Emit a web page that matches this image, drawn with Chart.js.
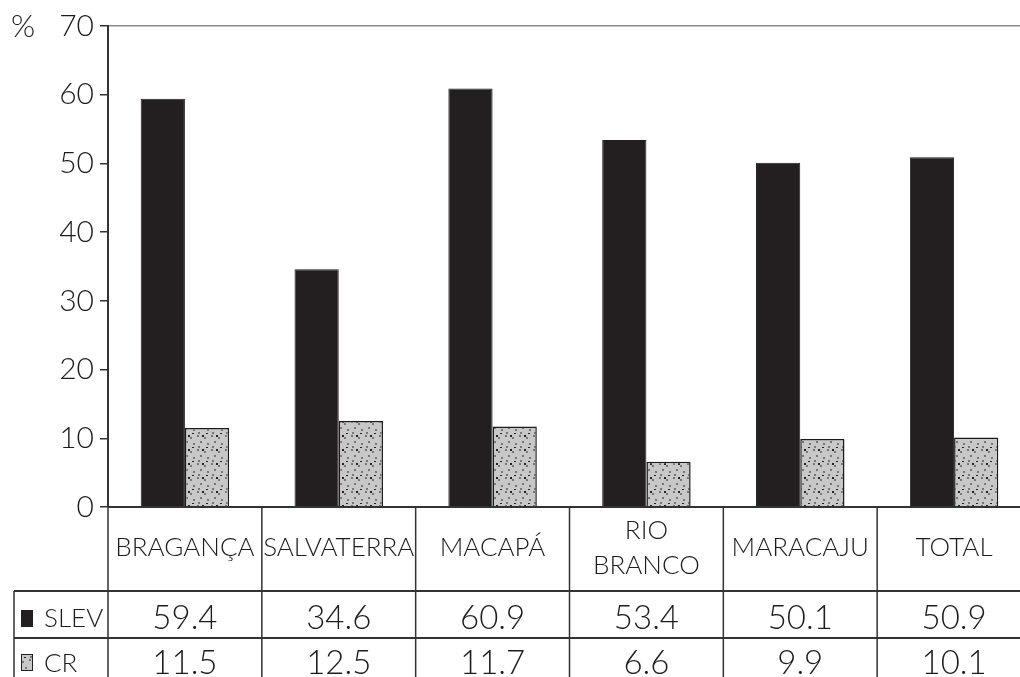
<!DOCTYPE html>
<html>
<head>
<meta charset="utf-8">
<script src="https://cdn.jsdelivr.net/npm/chart.js@4.4.1/dist/chart.umd.min.js"></script>
<style>
  html, body { margin: 0; padding: 0; background: #fff; overflow: hidden; }
  #wrap { position: relative; width: 1032px; height: 677px; }
</style>
</head>
<body>
<div id="wrap"><canvas id="c"></canvas></div>
<script>
const categories = ['BRAGANÇA', 'SALVATERRA', 'MACAPÁ', ['RIO', 'BRANCO'], 'MARACAJU', 'TOTAL'];
const seriesNames = ['SLEV', 'CR'];
const slevValues = [59.4, 34.6, 60.9, 53.4, 50.1, 50.9];
const crValues = [11.5, 12.5, 11.7, 6.6, 9.9, 10.1];
const slevLabels = ['59.4', '34.6', '60.9', '53.4', '50.1', '50.9'];
const crLabels = ['11.5', '12.5', '11.7', '6.6', '9.9', '10.1'];
const yMin = 0, yMax = 70, yStep = 10;
const yUnit = '%';

const FONT = 'Lato, "Open Sans", "DejaVu Sans", sans-serif';
const W8 = '300 ';
const TEXT = '#1c1c1c';

function makePattern() {
  const t = document.createElement('canvas');
  t.width = 14; t.height = 14;
  const g = t.getContext('2d');
  g.fillStyle = '#c8c8c8';
  g.fillRect(0, 0, 14, 14);
  g.fillStyle = '#777';
  [[1,1],[8,3],[4,7],[11,9],[2,12]].forEach(p => g.fillRect(p[0], p[1], 2, 2));
  g.fillStyle = '#222';
  [[10,13],[6,1]].forEach(p => g.fillRect(p[0], p[1], 2, 2));
  return g.createPattern(t, 'repeat');
}
const crPattern = makePattern();

const tablePlugin = {
  id: 'tablePlugin',
  afterDatasetsDraw(chart) {
    const ctx = chart.ctx;
    const area = chart.chartArea;
    const xs = chart.scales.x;
    const n = categories.length;
    const colW = (area.right - area.left) / n;
    const W = chart.width;
    const y0 = area.bottom;
    const hdrBottom = y0 + 84;
    const row1Bottom = hdrBottom + 47;
    const H = chart.height;
    const tableLeft = 14;
    ctx.save();
    ctx.strokeStyle = '#333';
    ctx.lineWidth = 2;
    ctx.beginPath();
    ctx.moveTo(area.left, y0); ctx.lineTo(W, y0);
    ctx.stroke();
    ctx.beginPath();
    ctx.moveTo(tableLeft, hdrBottom); ctx.lineTo(W, hdrBottom);
    ctx.moveTo(tableLeft, row1Bottom); ctx.lineTo(W, row1Bottom);
    ctx.stroke();
    ctx.lineWidth = 1.5;
    ctx.beginPath();
    ctx.moveTo(tableLeft, hdrBottom); ctx.lineTo(tableLeft, H);
    for (let i = 0; i <= n; i++) {
      const x = i < n ? xs.getPixelForValue(i) - colW / 2 : xs.getPixelForValue(n - 1) + colW / 2;
      ctx.moveTo(x, y0); ctx.lineTo(x, H);
    }
    ctx.stroke();
    ctx.fillStyle = TEXT;
    ctx.textAlign = 'center';
    ctx.textBaseline = 'middle';
    ctx.font = W8 + '26px ' + FONT;
    categories.forEach((c, i) => {
      const x = xs.getPixelForValue(i);
      const lines = Array.isArray(c) ? c : [c];
      const lh = 35;
      const cy = (y0 + hdrBottom) / 2 - 1;
      lines.forEach((l, j) => {
        ctx.fillText(l, x, cy + (j - (lines.length - 1) / 2) * lh);
      });
    });
    ctx.font = W8 + '33px ' + FONT;
    slevLabels.forEach((v, i) => ctx.fillText(v, xs.getPixelForValue(i), 618));
    crLabels.forEach((v, i) => ctx.fillText(v, xs.getPixelForValue(i), 663));
    ctx.textAlign = 'left';
    ctx.font = W8 + '26px ' + FONT;
    ctx.fillStyle = '#231f20';
    ctx.fillRect(21, 610, 12, 17);
    ctx.fillStyle = TEXT;
    ctx.fillText(seriesNames[0], 44, 619);
    ctx.fillStyle = crPattern;
    ctx.fillRect(21, 654, 12, 17);
    ctx.strokeStyle = '#222';
    ctx.lineWidth = 1;
    ctx.strokeRect(21.5, 654.5, 11, 16);
    ctx.fillStyle = TEXT;
    ctx.fillText(seriesNames[1], 44, 664);
    ctx.font = W8 + '31px ' + FONT;
    ctx.fillText(yUnit, 11, area.top + 1);
    ctx.restore();
  }
};

new Chart(document.getElementById('c'), {
  type: 'bar',
  data: {
    labels: categories,
    datasets: [
      { label: seriesNames[0], data: slevValues, backgroundColor: '#231f20', borderColor: '#231f20', borderWidth: 1,
        barPercentage: 1.0, categoryPercentage: 0.575 },
      { label: seriesNames[1], data: crValues, backgroundColor: crPattern, borderColor: '#1a1a1a', borderWidth: 1.5,
        barPercentage: 1.0, categoryPercentage: 0.575 }
    ]
  },
  options: {
    responsive: true,
    maintainAspectRatio: false,
    animation: false,
    devicePixelRatio: 1,
    layout: { padding: { top: 26, bottom: 170, right: 1, left: 0 } },
    plugins: { legend: { display: false }, tooltip: { enabled: false } },
    scales: {
      x: { display: false, grid: { display: false } },
      y: {
        min: yMin, max: yMax,
        ticks: { stepSize: yStep, color: TEXT, font: { size: 30, family: FONT, weight: '300' }, padding: 6 },
        grid: {
          drawTicks: true, tickLength: 8, tickColor: '#333', tickWidth: 1.5,
          color: (c) => (c.tick && c.tick.value === yMax) ? '#8a8a8a' : 'rgba(0,0,0,0)',
          lineWidth: 1.5
        },
        border: { display: true, color: '#333', width: 2 },
        afterFit: (s) => { s.width = 108; }
      }
    }
  },
  plugins: [tablePlugin]
});
</script>
</body>
</html>
